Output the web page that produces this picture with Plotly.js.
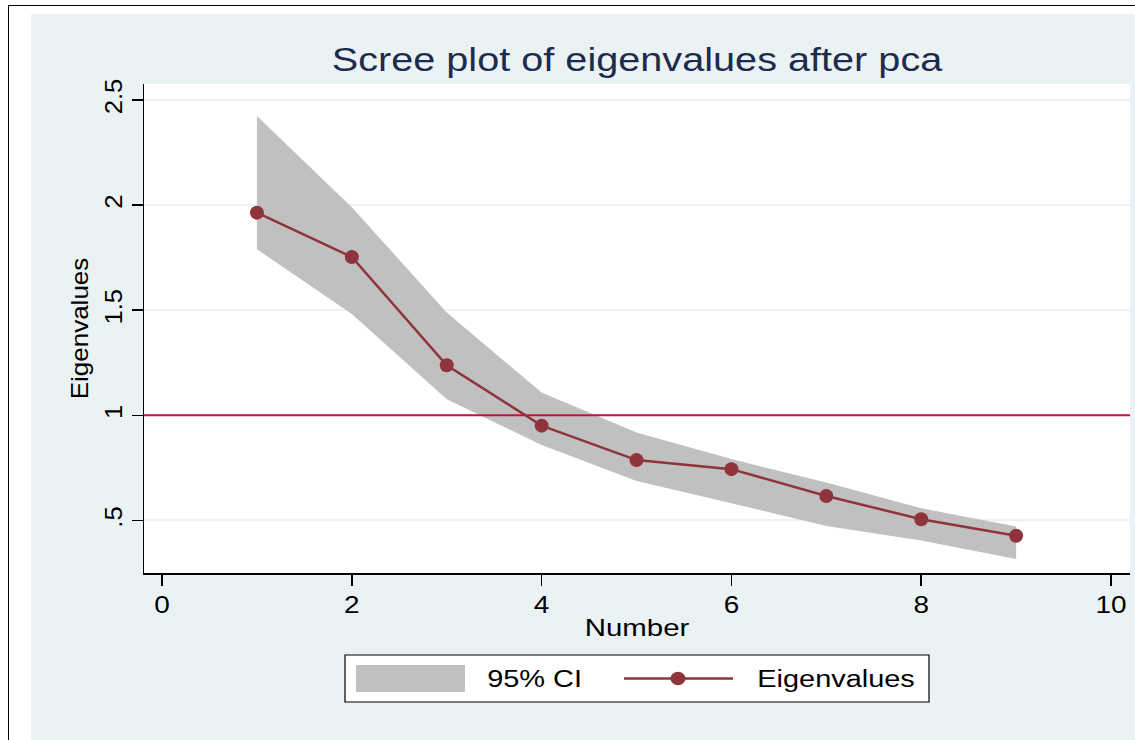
<!DOCTYPE html>
<html>
<head>
<meta charset="utf-8">
<script src="https://cdn.plot.ly/plotly-3.0.1.min.js"></script>
<style>
  html, body { margin: 0; padding: 0; background: #ffffff; width: 1135px; height: 740px; overflow: hidden; }
  #frame { position: absolute; left: 8px; top: 5px; width: 1127px; height: 735px; border-left: 1.5px solid #000; border-top: 1.5px solid #000; }
  #chart { position: absolute; left: 31px; top: 14px; width: 1104px; height: 726px; }
</style>
</head>
<body>
<div id="frame"></div>
<div id="chart"></div>
<script>
// Data
const components = [1, 2, 3, 4, 5, 6, 7, 8, 9];
const eigenvalues = [1.964, 1.753, 1.238, 0.951, 0.787, 0.744, 0.616, 0.506, 0.427];
const ciUpper = [2.424, 1.990, 1.489, 1.108, 0.918, 0.792, 0.680, 0.558, 0.471];
const ciLower = [1.790, 1.482, 1.077, 0.859, 0.688, 0.582, 0.474, 0.404, 0.316];
const yTickVals = [0.5, 1, 1.5, 2, 2.5];
const yTickText = ['.5', '1', '1.5', '2', '2.5'];
const xTickVals = [0, 2, 4, 6, 8, 10];
const referenceLine = 1;

const FONT = 'Liberation Sans, Arial, Helvetica, sans-serif';
const lineColor = '#8f343b';
const ciColor = '#c0c0c0';

const ciTrace = {
  x: components.concat(components.slice().reverse()),
  y: ciUpper.concat(ciLower.slice().reverse()),
  type: 'scatter', mode: 'lines', fill: 'toself',
  fillcolor: ciColor, line: { width: 0, color: ciColor },
  name: '95% CI', showlegend: false, hoverinfo: 'skip'
};
const refTrace = {
  x: [-0.19, 10.2], y: [referenceLine, referenceLine],
  type: 'scatter', mode: 'lines',
  line: { color: '#c8103a', width: 2 }, showlegend: false, hoverinfo: 'skip'
};
const eigTrace = {
  x: components, y: eigenvalues,
  type: 'scatter', mode: 'lines+markers',
  line: { color: lineColor, width: 2.5 },
  marker: { color: lineColor, size: 14 },
  name: 'Eigenvalues', showlegend: false
};

// custom legend (paper coords of the plot area: 144..1130 x, 84..573 y in page px)
const px = v => (v - 144) / 986;
const py = v => (573 - v) / 489;
const legendY = py(678.5);

const layout = {
  width: 1104, height: 726,
  paper_bgcolor: '#eaf2f3', plot_bgcolor: '#ffffff',
  margin: { l: 113, r: 5, t: 70, b: 167 },
  font: { family: FONT, color: '#000' },
  showlegend: false,
  title: {
    text: 'Scree plot of eigenvalues after pca',
    font: { family: FONT, size: 32.5, color: '#1c2b4e' },
    x: 0.5, xref: 'paper', xanchor: 'center',
    y: 1 - (59.5 - 14) / 726, yref: 'container', yanchor: 'middle'
  },
  xaxis: {
    range: [-0.19, 10.2], tickvals: xTickVals, ticktext: xTickVals.map(String),
    showgrid: false, zeroline: false,
    showline: true, linecolor: '#000', linewidth: 1.5,
    ticks: 'outside', ticklen: 11, tickwidth: 1.5, tickcolor: '#000',
    tickfont: { family: FONT, size: 23.3, color: '#000' },
    title: { text: 'Number', font: { family: FONT, size: 24.5, color: '#000' }, standoff: 1 }
  },
  yaxis: {
    range: [0.25, 2.576], tickvals: yTickVals, ticktext: yTickText, tickangle: -90,
    showgrid: true, gridcolor: '#eaf2f3', gridwidth: 2, zeroline: false,
    showline: true, linecolor: '#000', linewidth: 1.5,
    ticks: 'outside', ticklen: 11, tickwidth: 1.5, tickcolor: '#000',
    tickfont: { family: FONT, size: 23.3, color: '#000' },
    title: { text: 'Eigenvalues', font: { family: FONT, size: 24.5, color: '#000' }, standoff: 5 }
  },
  shapes: [
    { type: 'rect', xref: 'paper', yref: 'paper', x0: px(345), x1: px(929), y0: py(702), y1: py(655),
      fillcolor: '#ffffff', line: { color: '#000', width: 1.2 }, layer: 'above' },
    { type: 'rect', xref: 'paper', yref: 'paper', x0: px(356), x1: px(465), y0: py(692), y1: py(665),
      fillcolor: ciColor, line: { width: 0 }, layer: 'above' },
    { type: 'line', xref: 'paper', yref: 'paper', x0: px(624), x1: px(733), y0: legendY, y1: legendY,
      line: { color: lineColor, width: 2.5 }, layer: 'above' },
    { type: 'circle', xref: 'paper', yref: 'paper', xsizemode: 'pixel', ysizemode: 'pixel',
      xanchor: px(678), yanchor: legendY, x0: -7.5, x1: 7.5, y0: -6.8, y1: 6.8,
      fillcolor: lineColor, line: { color: lineColor, width: 0 }, layer: 'above' }
  ],
  annotations: [
    { xref: 'paper', yref: 'paper', x: px(534.5), y: legendY, xanchor: 'center', yanchor: 'middle',
      text: '95% CI', showarrow: false, font: { family: FONT, size: 23.5, color: '#000' } },
    { xref: 'paper', yref: 'paper', x: px(836), y: legendY, xanchor: 'center', yanchor: 'middle',
      text: 'Eigenvalues', showarrow: false, font: { family: FONT, size: 23.5, color: '#000' } }
  ]
};

// The reference font is drawn wider than Liberation Sans: widen glyphs in place.
function widen(el, k) {
  if (!el || el.getAttribute('data-wide')) return;
  const len = el.getComputedTextLength();
  if (len > 0) {
    el.setAttribute('textLength', (len * k).toFixed(2));
    el.setAttribute('lengthAdjust', 'spacingAndGlyphs');
    el.setAttribute('data-wide', '1');
  }
}

Plotly.newPlot('chart', [ciTrace, refTrace, eigTrace], layout, { displayModeBar: false, staticPlot: true })
  .then(gd => {
    gd.querySelectorAll('.xtick text').forEach(t => widen(t, 1.2));
    gd.querySelectorAll('.ytick text').forEach(t => widen(t, 1.1));
    gd.querySelectorAll('text.gtitle').forEach(t => widen(t, 1.22));
    gd.querySelectorAll('text.xtitle').forEach(t => widen(t, 1.2));
    gd.querySelectorAll('text.ytitle').forEach(t => widen(t, 1.06));
    gd.querySelectorAll('text.annotation-text').forEach(t => widen(t, 1.23));
  });
</script>
</body>
</html>
